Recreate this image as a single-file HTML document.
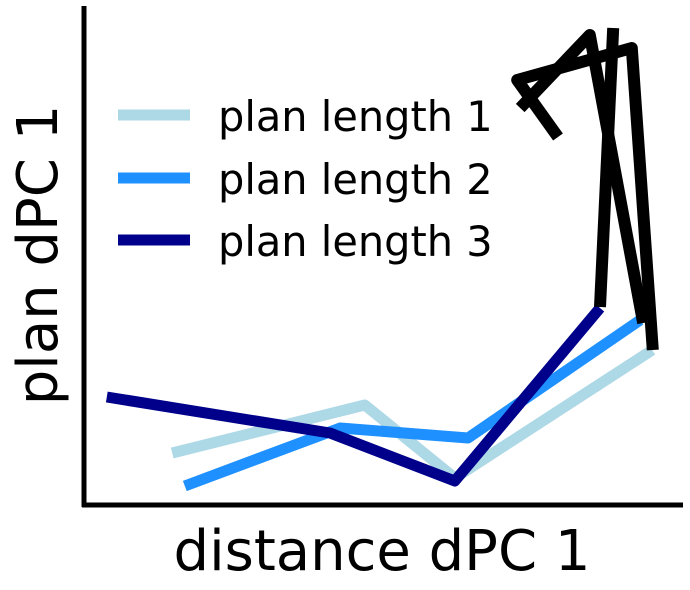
<!DOCTYPE html>
<html><head><meta charset="utf-8"><style>
body{margin:0;background:#fff}
svg{display:block;font-family:"DejaVu Sans","Liberation Sans",sans-serif}
</style></head><body>
<svg id="chart" width="690" height="590">
<g id="marks"></g>
<line x1="84" y1="6" x2="84" y2="507" stroke="#000" stroke-width="5"/>
<line x1="82" y1="505" x2="683" y2="505" stroke="#000" stroke-width="5"/>
<text x="382" y="570" font-size="56" text-anchor="middle">distance dPC 1</text>
<text transform="translate(57,255) rotate(-90)" font-size="56" text-anchor="middle">plan dPC 1</text>
<g>
<g><line x1="118" y1="115" x2="190" y2="115" stroke="#add8e6" stroke-width="11"/><text x="218" y="131" font-size="41.5">plan length 1</text></g>
<g><line x1="118" y1="178" x2="190" y2="178" stroke="#1e90ff" stroke-width="11"/><text x="218" y="194" font-size="41.5">plan length 2</text></g>
<g><line x1="118" y1="240" x2="190" y2="240" stroke="#00008b" stroke-width="11"/><text x="218" y="256" font-size="41.5">plan length 3</text></g>
</g>
</svg>
<script>
const light_x=[14.7,46.8,61.8,94.7], light_y=[10.4,20,5.4,31];
const mid_x=[16.8,42.7,64,92.7], mid_y=[3.8,15.4,13.4,37];
const dark_x=[3.8,41,61.8,86], dark_y=[21.6,14.4,4.8,39.4];
const blackA_x=[86,88.2], blackA_y=[39.6,95.4];
const blackB_x=[94.8,91.3,72.2,79], blackB_y=[31,91.4,85,73.6];
const blackC_x=[93.2,84.3,72.7], blackC_y=[36.4,94,79.4];
function xs(v){return 84+v*6;}
function ys(v){return 505-v*5;}
const g=document.getElementById('marks');
function draw(xa,ya,color,name,join,w){
  const p=document.createElementNS('http://www.w3.org/2000/svg','polyline');
  p.setAttribute('points',xa.map((x,i)=>xs(x)+','+ys(ya[i])).join(' '));
  p.setAttribute('fill','none');p.setAttribute('stroke',color);p.setAttribute('stroke-width',w);
  p.setAttribute('stroke-linejoin',join);
  
  
  g.appendChild(p);
}
draw(light_x,light_y,'#add8e6','series-plan-length-1','round','11');
draw(mid_x,mid_y,'#1e90ff','series-plan-length-2','round','11');
draw(dark_x,dark_y,'#00008b','series-plan-length-3','round','11');
draw(blackA_x,blackA_y,'#000','trajectory-a','round','12');
draw(blackB_x,blackB_y,'#000','trajectory-b','round','12');
draw(blackC_x,blackC_y,'#000','trajectory-c','round','12');
</script>
</body></html>
